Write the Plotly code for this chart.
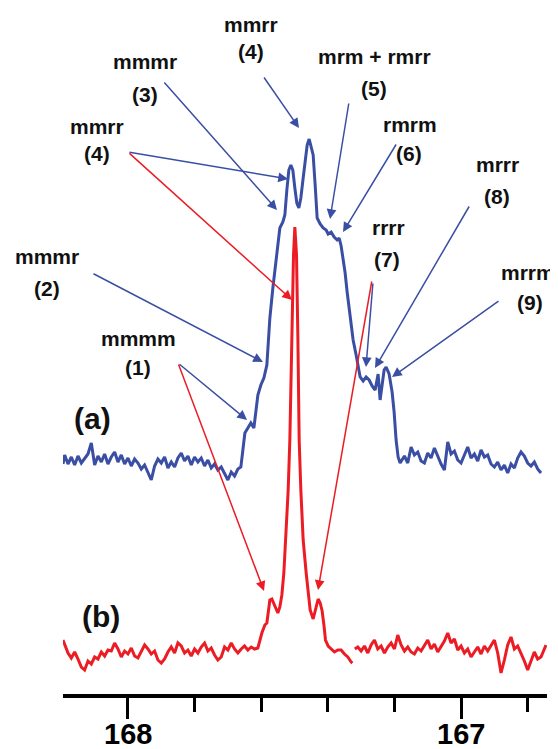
import plotly.graph_objects as go

# 13C NMR carbonyl region, spectrum (a) blue, spectrum (b) red
blue_ppm = [168.195, 168.19, 168.18, 168.17, 168.16, 168.15, 168.14, 168.13, 168.12, 168.11,
            168.10, 168.09, 168.08, 168.07, 168.06, 168.05, 168.04, 168.03, 168.02, 168.01,
            168.00, 167.99, 167.98, 167.97, 167.96, 167.95, 167.94, 167.93, 167.92, 167.91,
            167.90, 167.89, 167.88, 167.87, 167.86, 167.85, 167.84, 167.83, 167.82, 167.81,
            167.80, 167.79, 167.78, 167.77, 167.76, 167.75, 167.74, 167.73, 167.72, 167.71,
            167.70, 167.69, 167.68, 167.67,
            167.661, 167.655, 167.649, 167.640, 167.631, 167.622, 167.616, 167.610, 167.601, 167.592,
            167.583, 167.580, 167.574, 167.565, 167.553, 167.544, 167.535, 167.529, 167.523, 167.517,
            167.511, 167.505, 167.499, 167.493, 167.487, 167.481, 167.474, 167.468, 167.462, 167.456,
            167.450, 167.444, 167.438, 167.432, 167.423, 167.414, 167.405, 167.399, 167.390, 167.381,
            167.372, 167.366, 167.360, 167.354, 167.348, 167.342, 167.336, 167.330, 167.324, 167.315,
            167.309, 167.303, 167.294, 167.285, 167.276, 167.267, 167.258, 167.252, 167.249, 167.243,
            167.237, 167.231, 167.225, 167.216, 167.207, 167.201, 167.195, 167.189, 167.183,
            167.17, 167.16, 167.15, 167.14, 167.13, 167.12, 167.11, 167.10, 167.09, 167.08,
            167.07, 167.06, 167.05, 167.04, 167.03, 167.02, 167.01, 167.00, 166.99, 166.98,
            166.97, 166.96, 166.95, 166.94, 166.93, 166.92, 166.91, 166.90, 166.89, 166.88,
            166.87, 166.86, 166.85, 166.84, 166.83, 166.82, 166.81, 166.80, 166.79, 166.78,
            166.77, 166.76]
blue_int = [-4, 5, -4, 3, -5, 4, -3, 2, 6, 17,
            -5, 4, -2, 6, -4, 3, 8, -2, 5, -4,
            2, -6, 1, -3, -9, -5, -12, -20, -6, 1,
            -3, 3, -8, -2, -7, 2, 7, -1, 4, -5,
            3, -2, 2, -6, 0, -8, -4, -10, -7, -14,
            -20, -12, -16, -9,
            -7, 10, 27, 32, 37, 32, 50, 65, 75, 82,
            95, 115, 142, 172, 203, 232, 238, 245, 270, 290,
            295, 290, 272, 257, 252, 262, 282, 302, 315, 321,
            314, 305, 275, 242, 236, 232, 230, 226, 228, 223,
            220, 222, 214, 202, 187, 168, 150, 134, 120, 105,
            93, 83, 79, 83, 80, 74, 70, 79, 86, 60,
            74, 90, 93, 86, 68, 48, 20, 3, -3,
            4, -3, 13, 5, 8, -1, -3, 7, 2, 12,
            3, -4, -10, 18, 6, 9, 0, -3, 5, 13,
            2, 6, -1, 10, 3, 5, -4, -7, -2, -10,
            -5, -13, -4, -8, 2, 8, 4, -3, -6, -2,
            -9, -13]

red_ppm = [168.195, 168.19, 168.18, 168.17, 168.16, 168.15, 168.14, 168.13, 168.12, 168.11,
           168.10, 168.09, 168.08, 168.07, 168.06, 168.05, 168.04, 168.03, 168.02, 168.01,
           168.00, 167.99, 167.98, 167.97, 167.96, 167.95, 167.94, 167.93, 167.92, 167.91,
           167.90, 167.89, 167.88, 167.87, 167.86, 167.85, 167.84, 167.83, 167.82, 167.81,
           167.80, 167.79, 167.78, 167.77, 167.76, 167.75, 167.74, 167.73, 167.72, 167.71,
           167.70, 167.69, 167.68, 167.67, 167.66, 167.65, 167.64, 167.63, 167.62,
           167.610, 167.598, 167.589, 167.583, 167.574, 167.568, 167.559, 167.550, 167.544, 167.538,
           167.532, 167.526, 167.519, 167.514, 167.509, 167.503, 167.499, 167.494, 167.490, 167.486,
           167.481, 167.474, 167.465, 167.459, 167.453, 167.444, 167.437, 167.429, 167.423, 167.417,
           167.411, 167.407, 167.399, 167.39, 167.38, 167.37, 167.36, 167.35, 167.34, 167.33,
           167.326, 167.323, 167.319,
           167.31, 167.30, 167.29, 167.28, 167.27, 167.26, 167.25, 167.24, 167.23, 167.22,
           167.21, 167.20, 167.19, 167.18, 167.17, 167.16, 167.15, 167.14, 167.13, 167.12,
           167.11, 167.10, 167.09, 167.08, 167.07, 167.06, 167.05, 167.04, 167.03, 167.02,
           167.01, 167.00, 166.99, 166.98, 166.97, 166.96, 166.95, 166.94, 166.93, 166.92,
           166.91, 166.90, 166.89, 166.88, 166.87, 166.86, 166.85, 166.84, 166.83, 166.82,
           166.81, 166.80, 166.79, 166.78, 166.77, 166.76, 166.745]
red_int = [15, 10, 2, -3, 3, -4, -12, -15, -6, -9,
           -2, -4, 3, -1, 5, 4, 12, 6, -2, 4,
           1, 7, -1, -3, 4, 10, 6, 1, 4, -5,
           -8, -4, 3, 8, 2, 12, 9, 2, 5, -1,
           6, 2, 8, 12, 4, 7, 0, -5, -2, 8,
           5, 12, 6, 2, 6, 9, 5, 8, 6,
           7, 22, 30, 32, 55, 56, 48, 42, 48, 60,
           82, 115, 165, 215, 320, 400, 428, 400, 320, 215,
           165, 115, 82, 62, 45, 36, 46, 56, 52, 44,
           28, 15, 9, 6, 3, 5, 5, 1, -2, -7,
           -8, None, 6,
           8, 4, 9, 2, 10, 15, 6, 9, 2, 8,
           12, 6, 20, 10, 4, 8, 3, 1, 7, 4,
           10, 15, 6, 11, 3, 9, 14, 22, 12, 16,
           5, 9, 2, 6, -2, 3, 8, 1, 9, 4,
           10, 15, 2, -18, -5, 10, 18, 6, 9, 2,
           -6, -15, -5, 3, -4, -2, 10]

tick_vals = [168, 167]
tick_text = ["168", "167"]

# pentad labels, two lines each
labels = [
    ("mmrr", "(4)"),
    ("mmmr", "(3)"),
    ("mrm + rmrr", "(5)"),
    ("rmrm", "(6)"),
    ("mrrr", "(8)"),
    ("rrrr", "(7)"),
    ("mrrm", "(9)"),
    ("mmrr", "(4)"),
    ("mmmr", "(2)"),
    ("mmmm", "(1)"),
]
panel_labels = ["(a)", "(b)"]

# ---- layout, in pixels of the 558x749 window ----
# the page body has an 8 px margin, so the figure is 8 px smaller each way
BODY = 8
W, H = 558 - BODY, 749 - BODY
PLOT_L, PLOT_R, PLOT_B = 63, 547, 694        # plot box in window pixels (top = BODY)
PW, PH = PLOT_R - PLOT_L, PLOT_B - BODY
A_OFFSET = 234
B_OFFSET = 39
BLUE = "#3A4FA3"
RED = "#EC1C24"


def px(x):
    return (x - PLOT_L) / PW


def py(y):
    return (PLOT_B - y) / PH


label_pos = [
    ((251, 24), (251, 51)),
    ((145, 62), (145, 94)),
    ((374, 56), (374, 89)),
    ((410, 124), (409, 154)),
    ((497, 164), (497, 196)),
    ((388, 227), (387, 259)),
    ((528, 272), (530, 302)),
    ((97, 126), (97, 154)),
    ((47, 256), (47, 288)),
    ((138, 338), (138, 368)),
]
panel_pos = [(92, 418), (101, 616)]

# arrows: tail (x, y) -> head (x, y), colour
arrows = [
    ((263, 76), (299, 128), BLUE),
    ((163, 81), (277, 210), BLUE),
    ((349, 102), (330, 219), BLUE),
    ((397, 143), (343, 232), BLUE),
    ((470, 205), (375, 368), BLUE),
    ((373, 282), (366, 367), BLUE),
    ((372, 280), (318, 590), RED),
    ((500, 300), (392, 377), BLUE),
    ((128, 152), (288, 179), BLUE),
    ((128, 152), (292, 300), RED),
    ((92, 273), (263, 362), BLUE),
    ((178, 363), (247, 420), BLUE),
    ((178, 363), (264, 591), RED),
]

FONT = "Liberation Sans, Arial, sans-serif"

fig = go.Figure()
fig.add_trace(go.Scatter(x=blue_ppm, y=[v + A_OFFSET for v in blue_int], mode="lines",
                         line=dict(color=BLUE, width=3), hoverinfo="skip"))
fig.add_trace(go.Scatter(x=red_ppm, y=[v + B_OFFSET if v is not None else None for v in red_int],
                         mode="lines", line=dict(color=RED, width=3), connectgaps=False,
                         hoverinfo="skip"))

font_lbl = dict(family=FONT, size=21, color="#111111")
for (l1, l2), (p1, p2) in zip(labels, label_pos):
    for txt, (cx, cy) in ((l1, p1), (l2, p2)):
        fig.add_annotation(x=px(cx), y=py(cy), xref="paper", yref="paper", text="<b>%s</b>" % txt,
                           showarrow=False, xanchor="center", yanchor="middle", font=font_lbl)

for (tx, ty), (hx, hy), col in arrows:
    fig.add_annotation(x=px(hx), y=py(hy), xref="paper", yref="paper", text="",
                       showarrow=True, ax=tx - hx, ay=ty - hy, axref="pixel", ayref="pixel",
                       arrowhead=2, arrowsize=1.3, arrowwidth=1.5, arrowcolor=col, standoff=0)

for txt, (cx, cy) in zip(panel_labels, panel_pos):
    fig.add_annotation(x=px(cx), y=py(cy), xref="paper", yref="paper", text="<b>%s</b>" % txt,
                       showarrow=False, xanchor="center", yanchor="middle",
                       font=dict(family=FONT, size=30, color="#111111"))

# tick labels drawn as annotations so they sit just above the bottom edge
for v, t in zip(tick_vals, tick_text):
    fig.add_annotation(x=v, y=py(734), xref="x", yref="paper", text="<b>%s</b>" % t,
                       showarrow=False, xanchor="center", yanchor="middle",
                       font=dict(family=FONT, size=29, color="black"))

fig.update_layout(
    width=W, height=H,
    margin=dict(l=PLOT_L - BODY, r=W - (PLOT_R - BODY), t=0, b=H - (PLOT_B - BODY), pad=0,
                autoexpand=False),
    paper_bgcolor="white", plot_bgcolor="white",
    showlegend=False,
    xaxis=dict(range=[168.195, 166.742], showgrid=False, zeroline=False,
               showline=True, linewidth=4, linecolor="black",
               ticks="outside", ticklen=21, tickwidth=3, tickcolor="black",
               tickvals=tick_vals, showticklabels=False,
               minor=dict(ticks="outside", ticklen=14, tickwidth=3, tickcolor="black",
                          tick0=168, dtick=0.2, showgrid=False)),
    yaxis=dict(range=[0, PH], visible=False, showgrid=False, zeroline=False),
)

fig.write_html("out.html")
